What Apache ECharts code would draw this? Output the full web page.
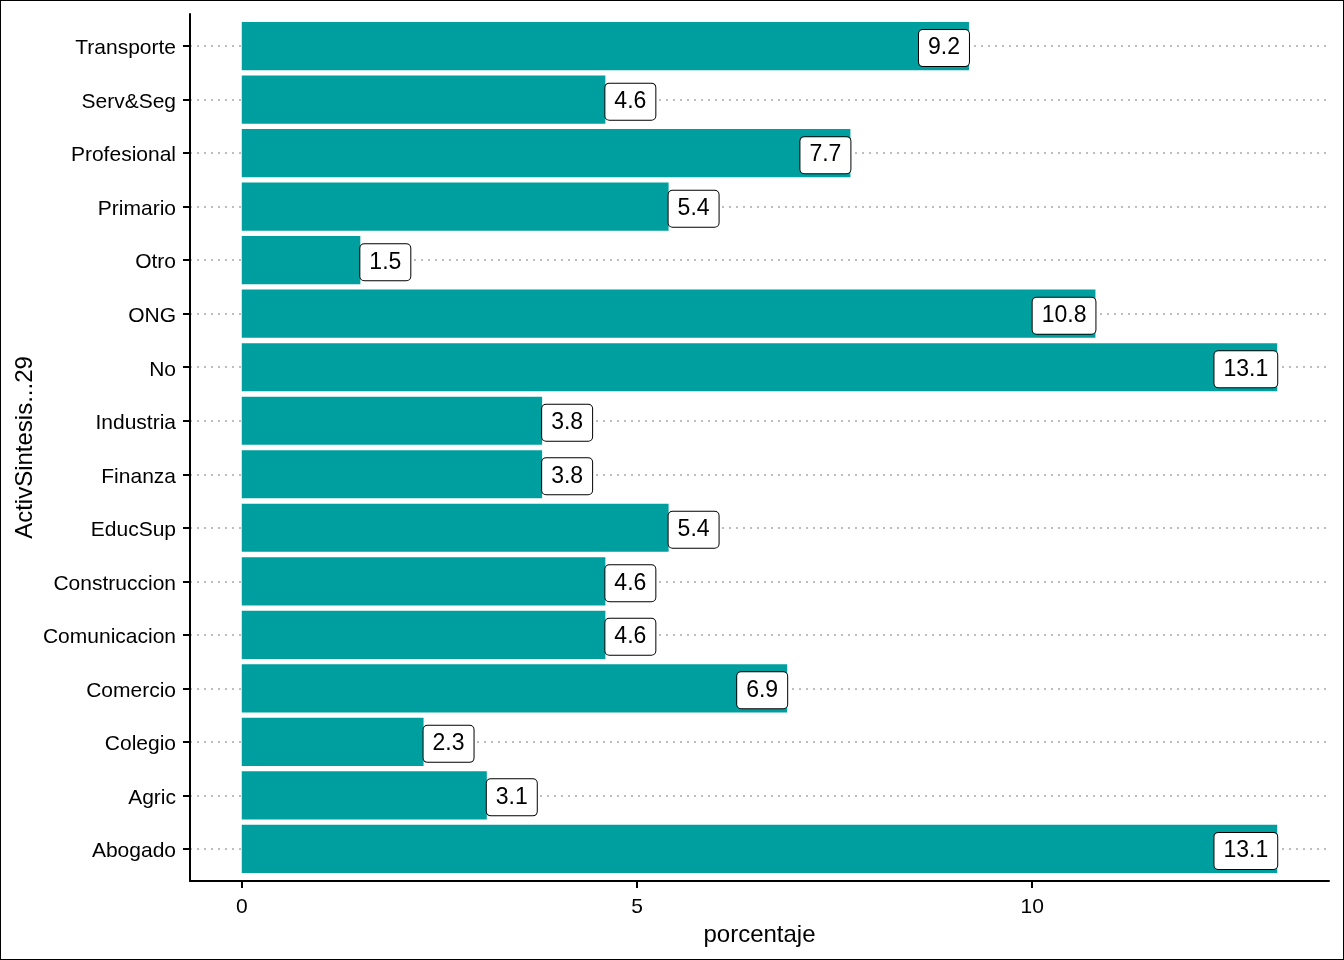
<!DOCTYPE html>
<html><head><meta charset="utf-8">
<script src="https://cdn.jsdelivr.net/npm/echarts@6/dist/echarts.min.js"></script>
<style>
html,body{margin:0;padding:0;background:#fff}
#c{width:1344px;height:960px}
#frame{position:absolute;left:0;top:0;width:1342px;height:958px;border:1px solid #000;pointer-events:none}
</style>
</head><body><div id="c"></div><div id="frame"></div>
<script>
const categories = ['Abogado','Agric','Colegio','Comercio','Comunicacion','Construccion','EducSup','Finanza','Industria','No','ONG','Otro','Primario','Profesional','Serv&Seg','Transporte'];
const porcentaje = [13.1,3.1,2.3,6.9,4.6,4.6,5.4,3.8,3.8,13.1,10.8,1.5,5.4,7.7,4.6,9.2];
const xTicks = [0,5,10];
const xTitle = 'porcentaje';
const yTitle = 'ActivSintesis...29';

const FONT = '"Liberation Sans", Arial, sans-serif';
const positions = categories.map((_, i) => i + 1);
const data = porcentaje.map((v, i) => [v, i + 1]);
const maxV = Math.max(...porcentaje);
const xExp = maxV * 0.05;

function renderItem(params, api) {
  const v = api.value(0), y = api.value(1);
  const p0 = api.coord([0, y + 0.45]);
  const p1 = api.coord([v, y - 0.45]);
  const mid = api.coord([v, y]);
  const inside = v > 6;
  return {
    type: 'group',
    children: [
      { type: 'rect', shape: { x: p0[0], y: p0[1], width: p1[0] - p0[0], height: p1[1] - p0[1] },
        style: { fill: '#009F9F' } },
      { type: 'text', x: mid[0], y: mid[1] + 2, z2: 10,
        style: { text: v.toFixed(1), align: inside ? 'right' : 'left', verticalAlign: 'middle',
          fontSize: 23, fontFamily: FONT, fill: '#000', lineHeight: 24,
          backgroundColor: '#fff', borderColor: '#000', borderWidth: 1, borderRadius: 4,
          padding: [7, 9, 5, 9] } }
    ]
  };
}

const chart = echarts.init(document.getElementById('c'), null, { renderer: 'canvas' });
chart.setOption({
  animation: false,
  backgroundColor: '#fff',
  grid: { left: 190, right: 15, top: 14, bottom: 79 },
  xAxis: {
    type: 'value', min: -xExp, max: maxV + xExp,
    name: xTitle, nameLocation: 'middle', nameGap: 41,
    nameTextStyle: { fontSize: 24, fontFamily: FONT, color: '#000' },
    axisLine: { show: true, onZero: false, lineStyle: { color: '#000', width: 2 } },
    axisTick: { show: true, customValues: xTicks, length: 7, lineStyle: { color: '#000', width: 2 } },
    axisLabel: { customValues: xTicks, margin: 16, fontSize: 21, fontFamily: FONT, color: '#000',
      formatter: v => String(v) },
    splitLine: { show: false }
  },
  yAxis: {
    type: 'value', min: 0.4, max: categories.length + 0.6,
    name: yTitle, nameLocation: 'middle', nameGap: 153, nameRotate: 90, nameMoveOverlap: false,
    nameTextStyle: { fontSize: 24, fontFamily: FONT, color: '#000' },
    axisLine: { show: true, onZero: false, lineStyle: { color: '#000', width: 2 } },
    axisTick: { show: true, customValues: positions, length: 7, lineStyle: { color: '#000', width: 2 } },
    axisLabel: { customValues: positions, margin: 14, fontSize: 21, fontFamily: FONT, color: '#000',
      formatter: v => '{a|' + categories[Math.round(v) - 1] + '}',
      rich: { a: { fontSize: 21, fontFamily: FONT, color: '#000', padding: [5, 0, 0, 0] } } },
    splitLine: { show: true, lineStyle: { color: '#BDBDBD', width: 2, type: [2, 5] } }
  },
  series: [{
    type: 'custom', renderItem: renderItem, data: data,
    encode: { x: 0, y: 1 }, clip: false
  }]
});
</script>
</body></html>
